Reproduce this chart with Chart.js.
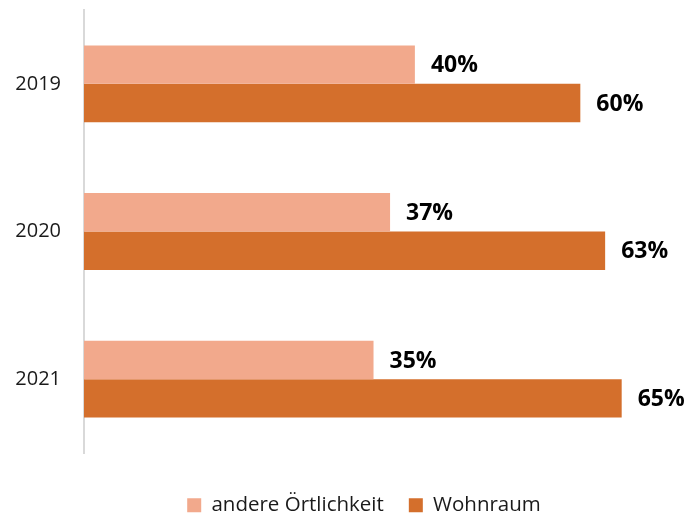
<!DOCTYPE html>
<html>
<head>
<meta charset="utf-8">
<script src="https://cdn.jsdelivr.net/npm/chart.js@4"></script>
<style>
  html, body { margin: 0; padding: 0; background: #ffffff; }
  #wrap { width: 692px; height: 516px; }
</style>
</head>
<body>
<div id="wrap"><canvas id="c" width="692" height="516"></canvas></div>
<script>
const categories = ['2019', '2020', '2021'];
const seriesNames = ['andere Örtlichkeit', 'Wohnraum'];
const andereValues = [40, 37, 35];
const wohnraumValues = [60, 63, 65];
const colors = ['#F2A98C', '#D46F2C'];

const FONT = "'Open Sans', 'DejaVu Sans', sans-serif";

const valueLabels = {
  id: 'valueLabels',
  afterDatasetsDraw(chart) {
    const ctx = chart.ctx;
    ctx.save();
    ctx.font = "bold 23px " + FONT;
    ctx.fillStyle = '#000000';
    ctx.textAlign = 'left';
    ctx.textBaseline = 'middle';
    chart.data.datasets.forEach((ds, di) => {
      const meta = chart.getDatasetMeta(di);
      meta.data.forEach((bar, i) => {
        ctx.fillText(ds.data[i] + '%', bar.x + 16, bar.y + 1);
      });
    });
    ctx.restore();
  }
};

const legendShift = {
  id: 'legendShift',
  afterLayout(chart) {
    const lg = chart.legend;
    if (!lg) return;
    const dx = 11, dy = 17;
    lg.left += dx; lg.right += dx;
    lg.top += dy; lg.bottom += dy;
  }
};

new Chart(document.getElementById('c'), {
  type: 'bar',
  data: {
    labels: categories,
    datasets: [
      { label: seriesNames[0], data: andereValues, backgroundColor: colors[0] },
      { label: seriesNames[1], data: wohnraumValues, backgroundColor: colors[1] }
    ]
  },
  options: {
    indexAxis: 'y',
    responsive: false,
    animation: false,
    devicePixelRatio: 1,
    datasets: { bar: { categoryPercentage: 0.52, barPercentage: 1.0 } },
    layout: { autoPadding: false, padding: { top: 10, left: 14, right: 0, bottom: 7.5 } },
    scales: {
      x: { display: false, min: 0, max: 73.5 },
      y: {
        grid: { display: false, drawTicks: false },
        border: { display: true, color: '#D9D9D9', width: 2 },
        ticks: { color: '#1A1A1A', font: { family: FONT, size: 20 }, padding: 23 },
        afterFit(scale) {
          scale.width = 70;
          scale.paddingTop = 0;
          scale.paddingBottom = 0;
        }
      }
    },
    plugins: {
      legend: {
        position: 'bottom',
        labels: {
          boxWidth: 14, boxHeight: 14, padding: 25,
          color: '#1A1A1A',
          font: { family: FONT, size: 20.5, lineHeight: 1 }
        }
      },
      tooltip: { enabled: false }
    }
  },
  plugins: [valueLabels, legendShift]
});
</script>
</body>
</html>
